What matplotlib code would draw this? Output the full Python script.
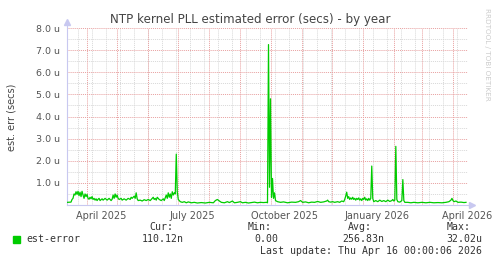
import numpy as np
import matplotlib
matplotlib.use("Agg")
import matplotlib.pyplot as plt
import matplotlib.dates as mdates

# time window: 400 days ending at last update
start = np.datetime64("2025-03-12T00:00:06")
end = np.datetime64("2026-04-16T00:00:06")

# day offsets from start and estimated error in microseconds
day_offsets = [0, 4, 5, 6, 7, 8, 9, 10, 11, 12, 13, 14, 15, 16, 17, 18, 19, 20, 21, 22, 23, 24, 25,
               26, 27, 28, 29, 30, 31, 32, 33, 35, 36, 38, 40, 42, 44, 45, 46, 47, 48, 49, 50, 51,
               52, 54, 55, 57, 59, 61, 63, 64, 65, 67, 68, 69, 70, 71, 73, 75, 77, 79, 81, 83, 85,
               86, 87, 88, 89, 90, 91, 92, 94, 96, 97, 99, 100, 101, 102, 103, 104, 105, 106, 107,
               108, 109, 110, 111, 113, 115, 117, 119, 121, 124, 127, 130, 134, 138, 142, 146, 148,
               150, 152, 154, 157, 160, 162, 165, 167, 170, 173, 175, 178, 181, 184, 187, 190, 193,
               196, 199, 200, 201, 202, 203, 204, 205, 206, 207, 208, 210, 213, 216, 220, 224, 228,
               231, 233, 235, 238, 241, 244, 247, 250, 253, 256, 259, 260, 261, 263, 265, 267, 270,
               272, 274, 276, 277, 278, 279, 280, 281, 282, 283, 284, 285, 286, 287, 288, 289, 290,
               291, 292, 293, 294, 295, 296, 297, 298, 299, 300, 301, 302, 303, 304, 305, 306, 308,
               310, 312, 314, 316, 318, 320, 322, 324, 325, 326, 327, 328, 329, 330, 332, 334, 335,
               336, 337, 340, 343, 346, 350, 354, 358, 362, 366, 370, 374, 378, 381, 383, 384, 385,
               386, 388, 390, 393, 396, 398]
est_error_us = [0.12, 0.13, 0.25, 0.3, 0.5, 0.45, 0.6, 0.48, 0.62, 0.42, 0.58, 0.38, 0.62, 0.45, 0.3,
                0.5, 0.38, 0.48, 0.3, 0.26, 0.35, 0.28, 0.38, 0.25, 0.3, 0.22, 0.28, 0.2, 0.26, 0.3,
                0.2, 0.28, 0.22, 0.3, 0.22, 0.3, 0.2, 0.26, 0.45, 0.3, 0.5, 0.35, 0.45, 0.3, 0.25,
                0.3, 0.22, 0.28, 0.22, 0.3, 0.25, 0.35, 0.3, 0.4, 0.3, 0.55, 0.28, 0.2, 0.22, 0.18,
                0.24, 0.2, 0.25, 0.2, 0.3, 0.35, 0.25, 0.3, 0.22, 0.35, 0.3, 0.25, 0.2, 0.28, 0.2,
                0.45, 0.3, 0.55, 0.35, 0.5, 0.3, 0.6, 0.45, 0.55, 0.5, 2.3, 0.6, 0.25, 0.15, 0.12,
                0.15, 0.1, 0.14, 0.1, 0.12, 0.09, 0.11, 0.09, 0.12, 0.1, 0.2, 0.25, 0.18, 0.12, 0.1,
                0.15, 0.11, 0.18, 0.1, 0.12, 0.15, 0.1, 0.12, 0.09, 0.11, 0.13, 0.1, 0.12, 0.11,
                0.12, 0.1, 7.25, 0.8, 4.8, 0.35, 1.2, 0.3, 0.55, 0.2, 0.15, 0.12, 0.14, 0.1, 0.13,
                0.12, 0.15, 0.2, 0.12, 0.14, 0.1, 0.13, 0.12, 0.16, 0.12, 0.14, 0.18, 0.22, 0.15,
                0.13, 0.15, 0.12, 0.15, 0.12, 0.18, 0.15, 0.25, 0.4, 0.58, 0.3, 0.38, 0.25, 0.32,
                0.26, 0.35, 0.25, 0.3, 0.22, 0.3, 0.25, 0.32, 0.22, 0.28, 0.2, 0.3, 0.25, 0.35,
                0.22, 0.28, 0.2, 0.3, 0.22, 0.3, 1.76, 0.3, 0.15, 0.2, 0.15, 0.22, 0.16, 0.2, 0.15,
                0.22, 0.16, 0.2, 0.25, 0.18, 0.22, 2.65, 0.25, 0.15, 0.13, 0.2, 1.15, 0.2, 0.12,
                0.12, 0.1, 0.12, 0.1, 0.12, 0.1, 0.12, 0.1, 0.11, 0.1, 0.12, 0.15, 0.22, 0.3, 0.2,
                0.15, 0.18, 0.12, 0.13, 0.11, 0.12]

y_ticks = [1, 2, 3, 4, 5, 6, 7, 8]
x_labels = ["April 2025", "July 2025", "October 2025", "January 2026", "April 2026"]
x_label_months = ["2025-04", "2025-07", "2025-10", "2026-01", "2026-04"]

legend_name = "est-error"
stat_names = ["Cur:", "Min:", "Avg:", "Max:"]
stat_values = ["110.12n", "0.00", "256.83n", "32.02u"]
last_update = "Last update: Thu Apr 16 00:00:06 2026"

W, H = 497, 264
fig = plt.figure(figsize=(W / 100, H / 100), dpi=100, facecolor="white")
ax = fig.add_axes([67 / W, 1 - 205 / H, 401 / W, 177 / H])
ax.set_facecolor("white")

dates = start.astype("datetime64[D]") + np.array(day_offsets).astype("timedelta64[D]")
dates = mdates.date2num(dates.astype("datetime64[s]"))
x0 = mdates.date2num(start)
x1 = mdates.date2num(end)

# grid
dot = (0, (1, 1))
minor = np.arange(np.datetime64("2025-03-23"), np.datetime64("2026-04-16"), 14)
for d in minor:
    ax.axvline(mdates.date2num(d.astype("datetime64[s]")), color="#d8d8d8", lw=0.7, ls=dot, zorder=1)
for v in np.arange(0.5, 8.0, 1.0):
    ax.axhline(v, color="#d8d8d8", lw=0.7, ls=dot, zorder=1)
months = np.arange(np.datetime64("2025-04"), np.datetime64("2026-05"), 1)
for m in months:
    ax.axvline(mdates.date2num(m.astype("datetime64[s]")), color="#e8a0a0", lw=0.7, ls=dot, zorder=2)
for v in y_ticks:
    ax.axhline(v, color="#e8a0a0", lw=0.7, ls=dot, zorder=2)

ax.plot(dates, est_error_us, color="#00cc00", lw=0.9, zorder=3)

ax.set_xlim(x0, x1)
ax.set_ylim(0, 8)
ax.set_yticks(y_ticks)
ax.set_yticklabels(["%.1f u" % v for v in y_ticks], fontsize=6.8, color="#555555")
label_pos = [mdates.date2num((np.datetime64(m).astype("datetime64[D]") + 14).astype("datetime64[s]"))
             for m in x_label_months]
ax.set_xticks(label_pos)
ax.set_xticklabels(x_labels, fontsize=7, color="#555555")
ax.tick_params(length=0, pad=4)
ax.tick_params(axis="y", pad=5)

for s in ["top", "right"]:
    ax.spines[s].set_visible(False)
for s in ["left", "bottom"]:
    ax.spines[s].set_color("#c8c8f0")
    ax.spines[s].set_linewidth(0.8)
ax.spines["left"].set_bounds(0, 8.25)
ax.plot([0], [1.035], marker="^", ms=4, color="#c8c8f0", transform=ax.transAxes, clip_on=False)
ax.plot([1.01], [0], marker=">", ms=4, color="#c8c8f0", transform=ax.transAxes, clip_on=False)
ax.plot([1.0, 1.01], [0, 0], color="#c8c8f0", lw=0.8, transform=ax.transAxes, clip_on=False)

fig.text(250 / W, 1 - 19 / H, "NTP kernel PLL estimated error (secs) - by year",
         ha="center", va="center", fontsize=8.6, color="#444444")
fig.text(12 / W, 1 - 117 / H, "est. err (secs)", rotation=90, ha="center", va="center",
         fontsize=7, color="#444444")
fig.text(487 / W, 1 - 8 / H, "RRDTOOL / TOBI OETIKER", rotation=-90, ha="center", va="top",
         fontsize=5.2, color="#cccccc")

mono = dict(family="DejaVu Sans Mono", fontsize=7.1, color="#333333", va="center")
fig.patches.append(plt.Rectangle((13 / W, 1 - 243 / H), 7 / W, 7 / H, color="#00cc00",
                                 transform=fig.transFigure, figure=fig))
fig.text(26 / W, 1 - 239 / H, legend_name, **mono)
name_x = [149, 248, 348, 447]
value_x = [184, 278, 384, 482]
for nm, nx, val, vx in zip(stat_names, name_x, stat_values, value_x):
    fig.text(nx / W, 1 - 227 / H, nm, ha="left", **mono)
    fig.text(vx / W, 1 - 239 / H, val, ha="right", **mono)
fig.text(482 / W, 1 - 251 / H, last_update, ha="right", **mono)

fig.savefig("out.png", dpi=100, facecolor="white")
